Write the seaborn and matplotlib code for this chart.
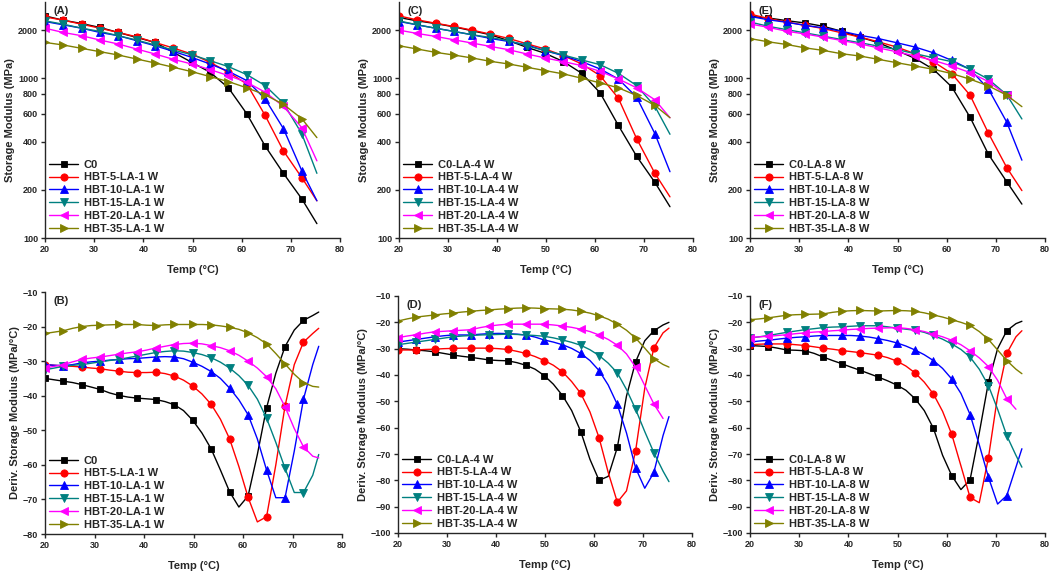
import numpy as np
import matplotlib
matplotlib.use("Agg")
import matplotlib.pyplot as plt
from matplotlib.lines import Line2D
from matplotlib.ticker import FixedLocator, NullLocator, FixedFormatter
import seaborn as sns

nan = np.nan

# temperature grids (marker spacing ~3.73 C, derivative curves read at half steps)
temp_top = [20.0, 23.73, 27.46, 31.19, 34.92, 38.65, 42.38, 46.11, 49.84, 53.57,
            57.30, 61.03, 64.76, 68.49, 72.22, 75.3]
temp_bot = [20.0, 21.87, 23.73, 25.6, 27.46, 29.33, 31.19, 33.06, 34.92, 36.79,
            38.65, 40.52, 42.38, 44.25, 46.11, 47.98, 49.84, 51.71, 53.57, 55.44,
            57.30, 59.17, 61.03, 62.9, 64.76, 66.63, 68.49, 70.36, 72.22, 74.09, 75.3]

# (A) storage modulus, 1 W
a_c0 = [2455, 2307, 2199, 2078, 1933, 1799, 1675, 1452, 1258, 1090, 871, 600, 377, 254, 176, 123]
a_5 = [2421, 2307, 2178, 2056, 1933, 1816, 1675, 1545, 1418, 1258, 1090, 922, 586, 351, 239, 171]
a_10 = [2265, 2158, 2056, 1933, 1845, 1718, 1597, 1473, 1351, 1228, 1105, 967, 743, 484, 264, 171]
a_15 = [2286, 2178, 2056, 1963, 1845, 1733, 1614, 1501, 1403, 1288, 1182, 1054, 900, 698, 450, 254]
a_20 = [2056, 1933, 1845, 1733, 1637, 1523, 1418, 1313, 1228, 1132, 1039, 944, 818, 667, 491, 304]
a_35 = [1675, 1614, 1538, 1466, 1397, 1319, 1246, 1171, 1100, 1024, 953, 871, 788, 686, 559, 425]

# (C) storage modulus, 4 W
c_c0 = [2399, 2286, 2199, 2098, 1982, 1871, 1718, 1560, 1431, 1270, 1074, 811, 507, 325, 223, 157]
c_5 = [2455, 2318, 2211, 2108, 2000, 1888, 1774, 1642, 1523, 1384, 1228, 1039, 750, 419, 254, 181]
c_10 = [2265, 2158, 2056, 1963, 1871, 1774, 1699, 1614, 1486, 1384, 1270, 1143, 990, 762, 450, 260]
c_15 = [2286, 2158, 2056, 1963, 1871, 1799, 1718, 1597, 1486, 1397, 1301, 1216, 1074, 900, 667, 446]
c_20 = [2000, 1906, 1827, 1741, 1660, 1582, 1508, 1418, 1339, 1270, 1199, 1105, 990, 871, 733, 566]
c_35 = [1597, 1523, 1452, 1397, 1339, 1276, 1228, 1171, 1116, 1064, 1000, 935, 871, 780, 676, 566]

# (E) storage modulus, 8 W
e_c0 = [2438, 2384, 2292, 2218, 2113, 1968, 1808, 1668, 1493, 1331, 1137, 883, 570, 334, 225, 163]
e_5 = [2523, 2361, 2249, 2143, 2046, 1923, 1808, 1690, 1567, 1423, 1270, 1069, 783, 453, 276, 198]
e_10 = [2438, 2322, 2239, 2143, 2066, 1968, 1857, 1771, 1668, 1567, 1443, 1294, 1137, 856, 531, 307]
e_15 = [2249, 2113, 2014, 1923, 1833, 1746, 1668, 1588, 1514, 1423, 1344, 1270, 1137, 986, 788, 556]
e_20 = [2187, 2083, 1968, 1893, 1808, 1722, 1641, 1549, 1464, 1377, 1294, 1193, 1084, 953, 783, nan]
e_35 = [1771, 1690, 1626, 1549, 1493, 1423, 1377, 1313, 1251, 1193, 1137, 1069, 986, 896, 783, 664]

# (B) derivative, 1 W
b_c0 = [-35.0, -35.4, -35.8, -36.2, -36.8, -37.5, -38.2, -39.2, -39.9, -40.4, -40.7, -40.9, -41.1, -41.7, -42.6, -44.3,
        -47.1, -50.8, -55.4, -61.5, -67.8, -72.2, -69.0, -57.0, -43.5, -33.5, -25.8, -21.0, -18.2, -16.8, -15.8]
b_5 = [-31.0, -31.2, -31.4, -31.5, -31.7, -32.0, -32.2, -32.6, -32.9, -33.2, -33.3, -33.3, -33.2, -33.6, -34.3, -35.5,
       -37.2, -39.5, -42.5, -46.8, -52.5, -60.5, -69.4, -76.5, -75.0, -60.0, -43.0, -31.0, -24.5, -22.0, -20.5]
b_10 = [-31.0, -31.2, -31.3, -31.0, -30.5, -30.2, -30.0, -29.7, -29.5, -29.3, -29.2, -29.0, -28.8, -28.7, -28.8, -29.3,
        -30.3, -31.5, -33.0, -35.0, -37.8, -41.2, -45.5, -52.5, -61.5, -69.5, -69.5, -56.0, -41.0, -31.0, -25.7]
b_15 = [-32.5, -32.0, -31.5, -31.2, -31.0, -30.6, -30.2, -29.8, -29.5, -29.0, -28.5, -28.0, -27.5, -27.2, -27.0, -27.1,
        -27.5, -28.1, -29.0, -30.3, -32.0, -34.2, -37.0, -41.0, -46.5, -53.5, -61.0, -68.0, -68.0, -63.0, -57.0]
b_20 = [-32.0, -31.5, -31.0, -30.2, -29.5, -29.1, -28.8, -28.4, -28.0, -27.6, -27.3, -26.8, -26.2, -25.7, -25.2, -24.9,
        -24.8, -25.0, -25.5, -26.1, -27.0, -28.3, -30.0, -32.0, -34.5, -38.0, -43.2, -49.5, -54.8, -57.5, -58.0]
b_35 = [-22.0, -21.6, -21.2, -20.5, -20.0, -19.7, -19.6, -19.5, -19.4, -19.4, -19.4, -19.6, -19.7, -19.5, -19.4, -19.4,
        -19.4, -19.4, -19.5, -19.8, -20.2, -20.8, -21.8, -23.2, -25.0, -27.8, -30.8, -33.8, -36.2, -37.3, -37.5]

# (D) derivative, 4 W
d_c0 = [-30.0, -30.2, -30.5, -30.8, -31.2, -31.8, -32.4, -32.9, -33.3, -33.8, -34.3, -34.5, -34.6, -35.3, -36.3, -37.8,
        -40.2, -43.5, -47.8, -53.5, -61.5, -72.0, -80.0, -78.5, -67.5, -48.0, -35.0, -27.0, -23.2, -21.0, -20.0]
d_5 = [-30.5, -30.5, -30.5, -30.3, -30.2, -30.0, -29.9, -29.8, -29.8, -29.8, -29.8, -30.0, -30.3, -31.0, -31.8, -33.0,
       -34.5, -36.3, -38.8, -42.5, -47.0, -54.0, -63.8, -77.0, -88.3, -84.0, -68.8, -45.0, -29.7, -24.0, -22.2]
d_10 = [-27.5, -27.0, -26.5, -26.0, -25.5, -25.1, -24.8, -24.8, -24.8, -24.5, -24.3, -24.2, -24.3, -24.5, -24.8, -25.6,
        -26.7, -27.5, -28.5, -29.9, -31.8, -34.5, -38.3, -43.8, -51.2, -62.0, -75.3, -83.0, -77.0, -63.0, -55.8]
d_15 = [-28.5, -28.0, -27.5, -27.0, -26.5, -26.0, -25.5, -25.2, -25.0, -24.8, -24.7, -24.6, -24.5, -24.6, -24.8, -25.0,
        -25.3, -25.9, -26.7, -27.6, -28.7, -30.4, -32.6, -35.5, -39.2, -45.5, -53.0, -61.5, -69.5, -76.5, -80.5]
d_20 = [-25.8, -25.2, -24.7, -24.1, -23.6, -23.4, -23.2, -23.0, -22.8, -22.0, -21.4, -21.0, -20.7, -20.7, -20.7, -20.7,
        -20.7, -21.0, -21.4, -21.9, -22.6, -23.5, -24.8, -26.5, -28.7, -32.0, -37.0, -44.0, -51.0, -56.5, nan]
d_35 = [-19.5, -18.7, -18.0, -17.6, -17.2, -16.8, -16.5, -16.1, -15.8, -15.5, -15.3, -15.0, -14.8, -14.6, -14.5, -14.6,
        -14.8, -14.9, -15.0, -15.3, -15.8, -16.5, -17.5, -18.8, -20.7, -23.0, -26.0, -29.8, -33.8, -36.0, -37.0]

# (F) derivative, 8 W
f_c0 = [-28.8, -29.0, -29.2, -29.8, -30.5, -30.6, -30.8, -31.8, -33.2, -34.5, -35.7, -37.0, -38.2, -39.5, -40.8, -42.2,
        -43.8, -45.8, -49.0, -53.5, -60.2, -70.5, -78.2, -83.5, -79.8, -62.0, -42.8, -30.0, -23.2, -20.5, -19.6]
f_5 = [-28.5, -28.3, -28.2, -28.2, -28.2, -28.5, -28.8, -29.3, -29.8, -30.2, -30.7, -31.1, -31.5, -32.0, -32.5, -33.4,
       -34.7, -36.6, -39.2, -42.7, -47.2, -53.8, -62.5, -74.5, -86.5, -88.5, -71.5, -48.0, -31.8, -25.5, -23.2]
f_10 = [-27.5, -27.1, -26.8, -26.4, -26.0, -25.7, -25.5, -25.2, -25.0, -25.0, -25.0, -25.0, -25.2, -25.6, -26.2, -26.9,
        -27.8, -29.0, -30.5, -32.3, -34.5, -37.5, -41.5, -47.0, -55.0, -66.5, -78.8, -89.0, -85.8, -75.0, -68.0]
f_15 = [-26.0, -25.5, -25.0, -24.4, -23.8, -23.3, -22.8, -22.4, -22.0, -21.8, -21.7, -21.5, -21.3, -21.3, -21.3, -21.7,
        -22.2, -22.6, -23.0, -23.8, -25.0, -26.4, -28.2, -30.3, -33.2, -37.8, -44.0, -53.0, -63.0, -70.5, -75.0]
f_20 = [-25.8, -25.5, -25.3, -25.0, -24.7, -24.3, -24.0, -23.7, -23.5, -23.2, -23.0, -22.7, -22.5, -22.3, -22.2, -22.1,
        -22.0, -22.3, -22.8, -23.5, -24.5, -25.5, -26.8, -28.5, -30.8, -33.5, -36.8, -42.0, -49.0, -53.0, nan]
f_35 = [-19.0, -18.7, -18.3, -17.8, -17.3, -17.1, -17.0, -16.9, -16.8, -16.2, -15.8, -15.6, -15.5, -15.6, -15.7, -15.6,
        -15.5, -15.6, -15.8, -16.4, -17.2, -18.0, -19.0, -20.0, -21.2, -23.5, -26.5, -30.5, -34.5, -37.8, -39.5]

colors = ["#000000", "#ff0000", "#0000ff", "#008080", "#ff00ff", "#808000"]
markers = ["s", "o", "^", "v", "<", ">"]
hbt = ["5", "10", "15", "20", "35"]

sns.set_style("ticks")
plt.rcParams['font.family'] = ['Liberation Sans', 'DejaVu Sans']
plt.rcParams['font.weight'] = 'bold'
plt.rcParams['axes.labelweight'] = 'bold'
plt.rcParams['axes.linewidth'] = 1.0
plt.rcParams['xtick.major.size'] = 3
plt.rcParams['ytick.major.size'] = 3
plt.rcParams['xtick.major.width'] = 1.0
plt.rcParams['ytick.major.width'] = 1.0
plt.rcParams['xtick.labelsize'] = 6.5
plt.rcParams['ytick.labelsize'] = 6.5

fig = plt.figure(figsize=(10.5, 5.72), dpi=100)

W, H = 1050.0, 572.0
def box(l, r, t, b):
    return [l / W, 1 - b / H, (r - l) / W, (b - t) / H]

panels = [
    ("(A)", box(45, 340, 2, 238), temp_top, [a_c0, a_5, a_10, a_15, a_20, a_35], "C0", "1 W", "top"),
    ("(C)", box(399, 693, 2, 238), temp_top, [c_c0, c_5, c_10, c_15, c_20, c_35], "C0-LA-4 W", "4 W", "top"),
    ("(E)", box(750, 1045, 2, 238), temp_top, [e_c0, e_5, e_10, e_15, e_20, e_35], "C0-LA-8 W", "8 W", "top"),
    ("(B)", box(45, 342, 292, 534), temp_bot, [b_c0, b_5, b_10, b_15, b_20, b_35], "C0", "1 W", "bot"),
    ("(D)", box(398, 692, 296, 533), temp_bot, [d_c0, d_5, d_10, d_15, d_20, d_35], "C0-LA-4 W", "4 W", "bot"),
    ("(F)", box(750, 1045, 296, 533), temp_bot, [f_c0, f_5, f_10, f_15, f_20, f_35], "C0-LA-8 W", "8 W", "bot"),
]

for tag, rect, temps, series, c0_name, power, kind in panels:
    ax = fig.add_axes(rect)
    level = power.split()[0]
    names = [c0_name] + [f"HBT-{h}-LA-{level} W" for h in hbt]
    mark_idx = slice(0, 15) if kind == "top" else slice(0, 29, 2)
    handles = []
    for vals, name, col, mk in zip(series, names, colors, markers):
        ms = 4.5 if mk == "s" else 5.2
        sns.lineplot(x=temps, y=vals, ax=ax, color=col, lw=1.0, marker=mk, markersize=ms,
                     markeredgecolor=col, markeredgewidth=0.6, markevery=mark_idx,
                     estimator=None, legend=False)
        handles.append(Line2D([], [], color=col, lw=1.0, marker=mk, markersize=ms,
                              markeredgecolor=col, markeredgewidth=0.6))

    ax.set_xlim(20, 80)
    ax.xaxis.set_major_locator(FixedLocator([20, 30, 40, 50, 60, 70, 80]))
    ax.set_xlabel("Temp (\u00b0C)", fontsize=8, labelpad=8)
    if kind == "top":
        ax.set_yscale("log")
        ax.set_ylim(100, 3000)
        yt = [100, 200, 400, 600, 800, 1000, 2000]
        ax.yaxis.set_major_locator(FixedLocator(yt))
        ax.yaxis.set_major_formatter(FixedFormatter([str(v) for v in yt]))
        ax.yaxis.set_minor_locator(NullLocator())
        ax.set_ylabel("Storage Modulus (MPa)", fontsize=8, labelpad=2)
    else:
        lo = -80 if tag == "(B)" else -100
        ax.set_ylim(lo, -10)
        ax.yaxis.set_major_locator(FixedLocator(list(range(lo, 0, 10))))
        ax.set_ylabel("Deriv. Storage Modulus (MPa/\u00b0C)", fontsize=8, labelpad=2)
    ax.tick_params(direction="out", pad=2)
    sns.despine(ax=ax)
    ax.text(0.03, 0.985, tag, transform=ax.transAxes, ha="left", va="top", fontsize=8, fontweight="bold")
    ax.legend(handles, names, loc="lower left", frameon=False, fontsize=8,
              handlelength=2.6, labelspacing=0.25, handletextpad=0.5,
              borderaxespad=0.2, borderpad=0.2)

fig.savefig("out.png", dpi=100)
